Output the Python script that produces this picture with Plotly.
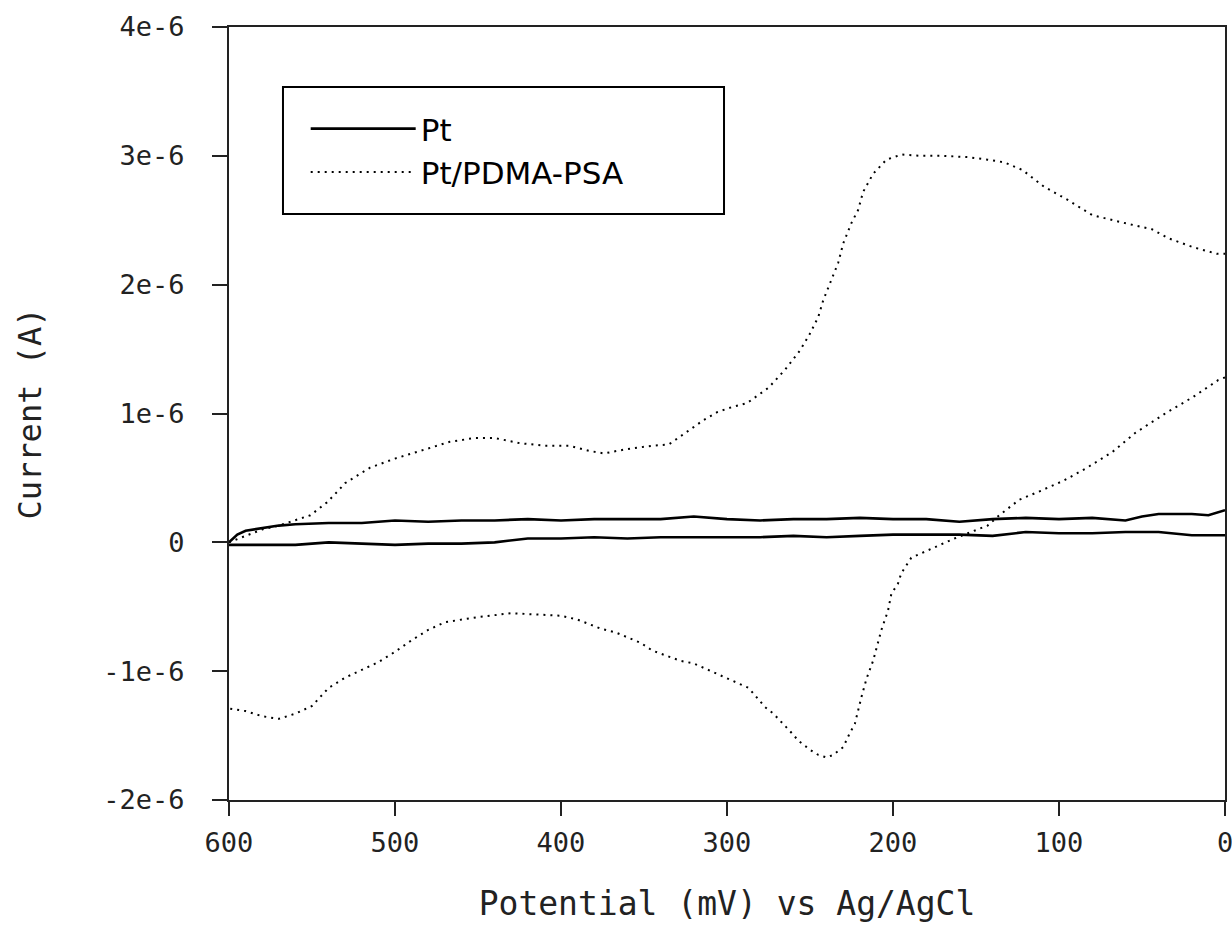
import plotly.graph_objects as go

# ---------------- data (potential in mV, current in A) ----------------
# forward sweep (600 -> 0 mV) and reverse sweep (0 -> 600 mV) for each electrode
pt_fwd_potential = [600, 595, 590, 580, 570, 560, 540, 520, 500, 480, 460, 440, 420, 400, 380, 360,
                    340, 320, 300, 280, 260, 240, 220, 200, 180, 160, 140, 120, 100, 80, 60, 50, 40,
                    20, 10, 0]
pt_fwd_current_e6 = [0.0, 0.06, 0.09, 0.11, 0.13, 0.14, 0.15, 0.15, 0.17, 0.16, 0.17, 0.17, 0.18,
                     0.17, 0.18, 0.18, 0.18, 0.20, 0.18, 0.17, 0.18, 0.18, 0.19, 0.18, 0.18, 0.16,
                     0.18, 0.19, 0.18, 0.19, 0.17, 0.20, 0.22, 0.22, 0.21, 0.25]
pt_rev_potential = [0, 20, 40, 60, 80, 100, 120, 140, 160, 180, 200, 220, 240, 260, 280, 300, 320,
                    340, 360, 380, 400, 420, 440, 460, 480, 500, 520, 540, 560, 580, 600]
pt_rev_current_e6 = [0.055, 0.055, 0.08, 0.08, 0.07, 0.07, 0.08, 0.05, 0.06, 0.06, 0.06, 0.05, 0.04,
                     0.05, 0.04, 0.04, 0.04, 0.04, 0.03, 0.04, 0.03, 0.03, 0.0, -0.01, -0.01, -0.02,
                     -0.01, 0.0, -0.02, -0.02, -0.02]

psa_fwd_potential = [600, 590, 580, 570, 560, 551, 547, 541, 535, 530, 525, 515, 500, 485, 467, 452,
                     440, 425, 410, 395, 383, 374, 362, 345, 335, 325, 314, 306, 297, 288, 275, 265,
                     256, 250, 245, 242, 238, 233, 230, 225, 221, 218, 212, 204, 195, 183, 170, 155,
                     143, 133, 122, 109, 95, 80, 61, 44, 34, 19, 5, 0]
psa_fwd_current_e6 = [0.0, 0.05, 0.10, 0.13, 0.17, 0.21, 0.25, 0.31, 0.39, 0.46, 0.50, 0.58, 0.65,
                      0.71, 0.78, 0.81, 0.81, 0.77, 0.75, 0.75, 0.71, 0.69, 0.72, 0.75, 0.76, 0.85,
                      0.95, 1.01, 1.05, 1.08, 1.20, 1.34, 1.49, 1.62, 1.75, 1.88, 2.01, 2.17, 2.32,
                      2.48, 2.58, 2.72, 2.86, 2.97, 3.01, 3.00, 3.00, 2.99, 2.97, 2.95, 2.89, 2.76,
                      2.66, 2.54, 2.48, 2.43, 2.36, 2.29, 2.24, 2.24]
psa_rev_potential = [0, 4, 19, 36, 54, 68, 83, 97, 111, 124, 136, 143, 163, 177, 189, 195, 197, 201,
                     203, 207, 210, 212, 216, 219, 223, 226, 230, 236, 240, 245, 250, 257, 261, 266,
                     272, 277, 283, 287, 294, 301, 307, 313, 320, 328, 337, 345, 352, 360, 367, 376,
                     390, 400, 415, 430, 450, 470, 480, 490, 500, 510, 520, 530, 540, 550, 560, 570,
                     580, 590, 600]
psa_rev_current_e6 = [1.28, 1.26, 1.13, 1.00, 0.85, 0.70, 0.58, 0.48, 0.40, 0.33, 0.21, 0.13, 0.03,
                      -0.05, -0.12, -0.24, -0.32, -0.40, -0.53, -0.68, -0.82, -0.92, -1.06, -1.20,
                      -1.41, -1.48, -1.59, -1.65, -1.67, -1.65, -1.61, -1.54, -1.48, -1.41, -1.33,
                      -1.28, -1.19, -1.13, -1.09, -1.05, -1.02, -0.98, -0.94, -0.92, -0.88, -0.84,
                      -0.78, -0.74, -0.70, -0.67, -0.60, -0.57, -0.56, -0.55, -0.58, -0.62, -0.68,
                      -0.76, -0.85, -0.93, -0.99, -1.05, -1.13, -1.27, -1.33, -1.37, -1.35, -1.31,
                      -1.29]

x_tick_values = [600, 500, 400, 300, 200, 100, 0]
x_tick_labels = ["600", "500", "400", "300", "200", "100", "0"]
y_tick_values = [4e-6, 3e-6, 2e-6, 1e-6, 0, -1e-6, -2e-6]
y_tick_labels = ["4e-6", "3e-6", "2e-6", "1e-6", "0", "-1e-6", "-2e-6"]

series_names = ["Pt", "Pt/PDMA-PSA"]

# ---------------- figure ----------------
pt_line = dict(color="black", width=2.6)
psa_line = dict(color="black", width=2, dash="2px,5px")

fig = go.Figure()
fig.add_trace(go.Scatter(
    x=pt_fwd_potential, y=[v * 1e-6 for v in pt_fwd_current_e6], mode="lines",
    name=series_names[0], legendgroup="pt", line=pt_line,
))
fig.add_trace(go.Scatter(
    x=pt_rev_potential, y=[v * 1e-6 for v in pt_rev_current_e6], mode="lines",
    name=series_names[0], legendgroup="pt", showlegend=False, line=pt_line,
))
fig.add_trace(go.Scatter(
    x=psa_fwd_potential, y=[v * 1e-6 for v in psa_fwd_current_e6], mode="lines",
    name=series_names[1], legendgroup="psa", line=psa_line,
))
fig.add_trace(go.Scatter(
    x=psa_rev_potential, y=[v * 1e-6 for v in psa_rev_current_e6], mode="lines",
    name=series_names[1], legendgroup="psa", showlegend=False, line=psa_line,
))

tick_font = dict(family="DejaVu Sans Mono", size=27, color="#222")

fig.update_layout(
    width=1232, height=937,
    margin=dict(l=229, r=7, t=27, b=137, autoexpand=False),
    paper_bgcolor="white", plot_bgcolor="white",
    showlegend=True,
    legend=dict(
        x=0.077, y=0.903, xanchor="left", yanchor="top",
        borderwidth=0, bgcolor="rgba(0,0,0,0)",
        font=dict(family="DejaVu Sans", size=31, color="black"),
        itemwidth=105, tracegroupgap=0,
    ),
    shapes=[dict(type="rect", xref="paper", yref="paper",
                 x0=0.0542, x1=0.497, y0=0.758, y1=0.9224,
                 line=dict(color="black", width=2), fillcolor="rgba(0,0,0,0)", layer="below")],
    xaxis=dict(
        range=[600, 0], tickvals=x_tick_values, ticktext=x_tick_labels,
        showline=True, linecolor="#222", linewidth=2, mirror=True,
        ticks="outside", ticklen=14, tickwidth=2, tickcolor="#222",
        showgrid=False, zeroline=False, tickfont=tick_font, ticklabelstandoff=4,
        ticklabeloverflow="allow",
        title=dict(text="Potential (mV) vs Ag/AgCl",
                   font=dict(family="DejaVu Sans Mono", size=33, color="#222"), standoff=34),
    ),
    yaxis=dict(
        range=[-2e-6, 4e-6], tickvals=y_tick_values, ticktext=y_tick_labels,
        showline=True, linecolor="#222", linewidth=2, mirror=True,
        ticks="outside", ticklen=15, tickwidth=2, tickcolor="#222",
        showgrid=False, zeroline=False, tickfont=tick_font, ticklabelstandoff=22,
        title=dict(text="Current (A)",
                   font=dict(family="DejaVu Sans Mono", size=32, color="#222"), standoff=52),
    ),
)

fig.write_html("out.html", config={"displayModeBar": False},
               post_script="document.body.style.margin='0';document.body.style.overflow='hidden';")
